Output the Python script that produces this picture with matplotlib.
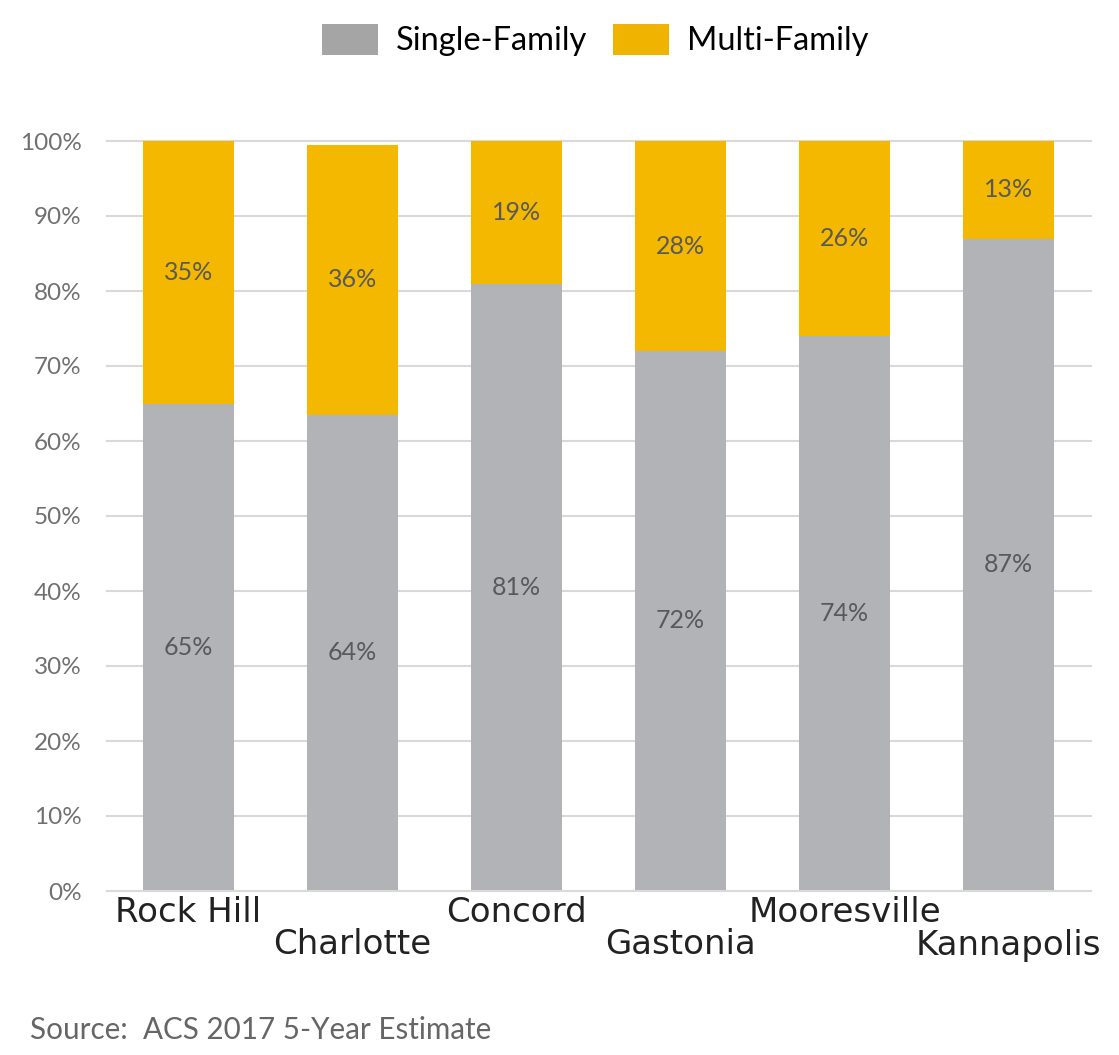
import matplotlib
matplotlib.use("Agg")
import matplotlib.pyplot as plt
from matplotlib.patches import Patch
import matplotlib.transforms as mtransforms

cities = ["Rock Hill", "Charlotte", "Concord", "Gastonia", "Mooresville", "Kannapolis"]
single_family = [65, 63.5, 81, 72, 74, 87]
multi_family = [35, 36, 19, 28, 26, 13]
yticks = [0, 10, 20, 30, 40, 50, 60, 70, 80, 90, 100]
ytick_labels = [f"{v}%" for v in yticks]

GRAY = "#B2B3B6"
YELLOW = "#F5B800"
FONT = ["Lato", "DejaVu Sans"]
plt.rcParams["font.family"] = FONT

fig = plt.figure(figsize=(11.19, 10.55), dpi=100)
ax = fig.add_axes([106.5 / 1119, 1 - 891 / 1055, 984 / 1119, 750 / 1055])

x = list(range(len(cities)))
w = 0.555
ax.bar(x, single_family, width=w, color=GRAY, zorder=3)
ax.bar(x, multi_family, width=w, bottom=single_family, color=YELLOW, zorder=3)

for i, (s, m) in enumerate(zip(single_family, multi_family)):
    ax.text(i, s / 2, f"{s:.0f}%", ha="center", va="center", fontsize=18, color="#595959", zorder=4)
    ax.text(i, s + m / 2, f"{m:.0f}%", ha="center", va="center", fontsize=18, color="#595959", zorder=4)

ax.set_xlim(-0.5, len(cities) - 0.5)
ax.set_ylim(0, 100)
ax.set_yticks(yticks)
ax.set_yticklabels(ytick_labels, fontsize=17.5, color="#707070")
ax.tick_params(axis="y", length=0, pad=18)
ax.set_xticks([])
for sp in ax.spines.values():
    sp.set_visible(False)
ax.grid(axis="y", color="#D9D9D9", linewidth=1.5, zorder=0)
ax.set_axisbelow(True)
ax.axhline(0, color="#D9D9D9", linewidth=1.5, zorder=5)
for gl in ax.get_ygridlines():
    gl.set_clip_on(False)

trans = mtransforms.blended_transform_factory(ax.transData, fig.transFigure)
for i, c in enumerate(cities):
    ypix = 912 if i % 2 == 0 else 945
    ax.text(i, 1 - ypix / 1055, c, transform=trans, ha="center", va="center",
            fontsize=24.5, color="#222222", family=["DejaVu Sans"])

handles = [Patch(facecolor="#A5A5A5", label="Single-Family"),
           Patch(facecolor="#F0B400", label="Multi-Family")]
fig.legend(handles=handles, loc="center", bbox_to_anchor=(0.532, 1 - 40 / 1055), ncol=2,
           frameon=False, fontsize=23.5, handlelength=1.7, handleheight=1.1,
           handletextpad=0.55, columnspacing=0.8)

fig.text(30 / 1119, 1 - 1030 / 1055, "Source:  ACS 2017 5-Year Estimate", fontsize=21.3,
         color="#666666", ha="left", va="center")

fig.savefig("out.png", dpi=100)
